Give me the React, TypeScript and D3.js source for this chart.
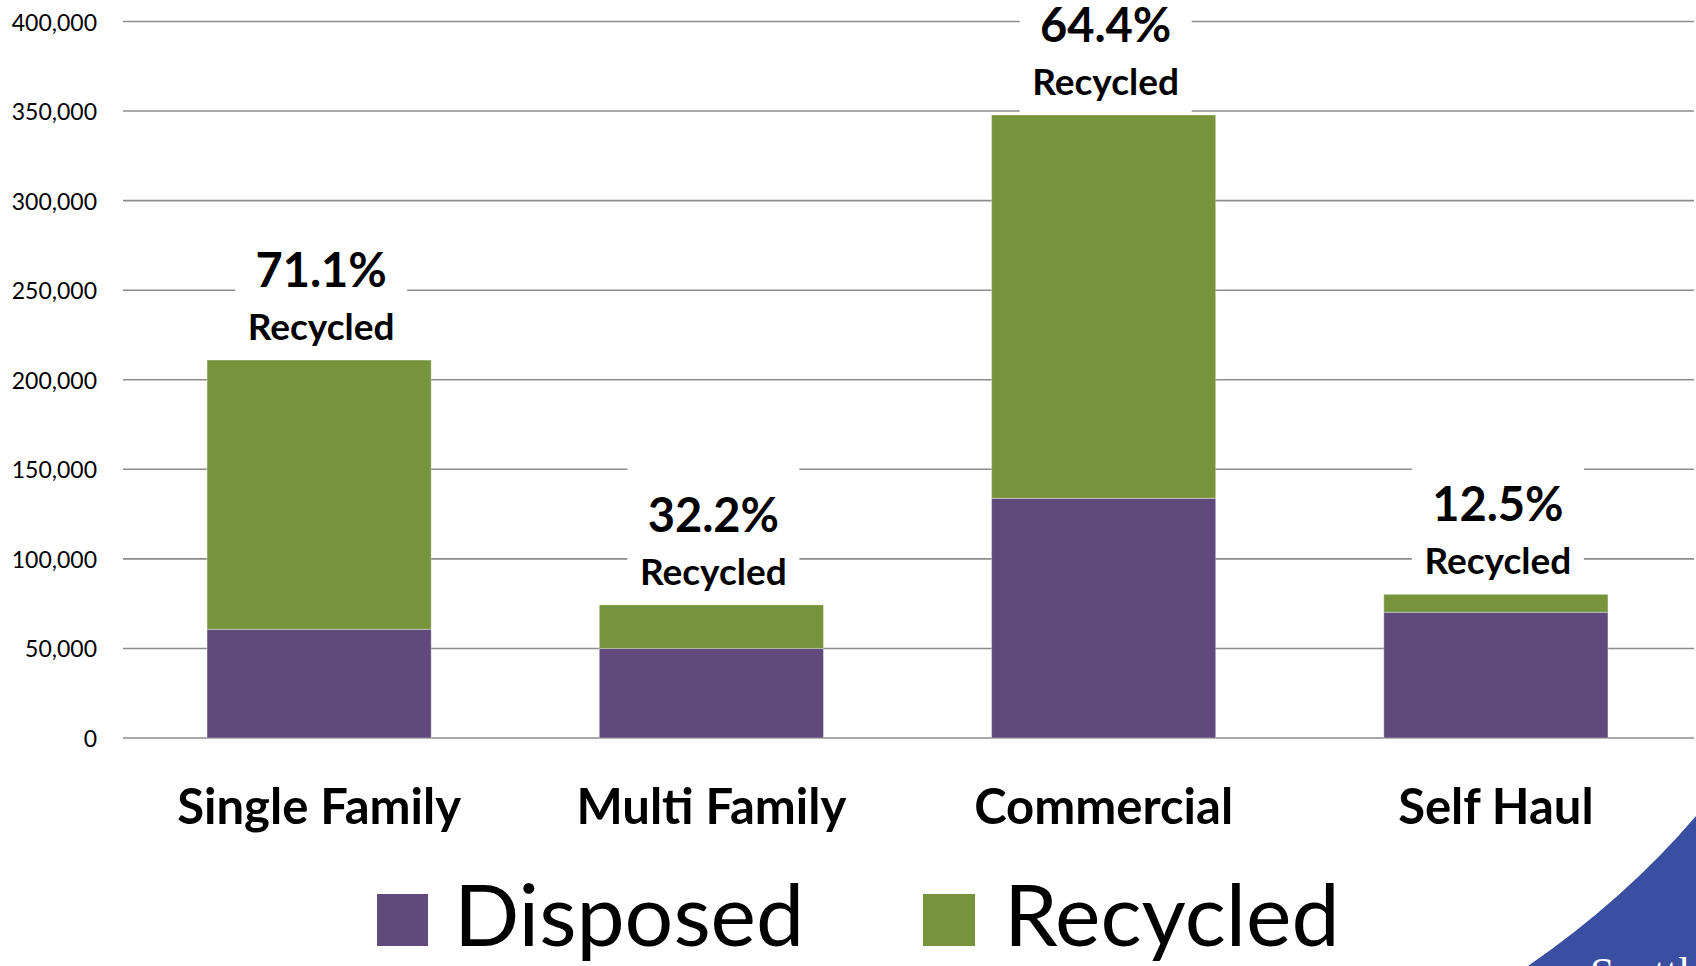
import React from "react";
import * as d3 from "d3";

const categories = ["Single Family", "Multi Family", "Commercial", "Self Haul"];
const disposed = [60700, 50000, 133800, 70200];
const recycled = [150300, 24300, 214000, 10000];
const pctLabels = ["71.1%", "32.2%", "64.4%", "12.5%"];
const yTicks = [0, 50000, 100000, 150000, 200000, 250000, 300000, 350000, 400000];
const seriesKeys = ["Disposed", "Recycled"];
const colors: Record<string, string> = { Disposed: "#604A7B", Recycled: "#77933C" };

const W = 1696;
const H = 966;
const FONT = "Lato, 'Open Sans', sans-serif";

export default function App() {
  const x = d3.scaleBand<string>().domain(categories).range([123, 1692]).paddingInner(0.4286).paddingOuter(0.2143);
  const y = d3.scaleLinear().domain([0, 400000]).range([738, 21.5]);
  const rows = categories.map((c, i) => ({ cat: c, Disposed: disposed[i], Recycled: recycled[i] }));
  const stacked = d3.stack<any>().keys(seriesKeys)(rows);
  const fmt = d3.format(",");

  const cornerPath = "M1528,966 Q1625,899 1696,816 L1696,966 Z";

  return (
    <div style={{ position: "absolute", left: 0, top: 0, width: W, height: H, overflow: "hidden", background: "#fff" }}>
      <svg width={W} height={H} style={{ display: "block" }}>
        <rect x={0} y={0} width={W} height={H} fill="#fff" />
        {/* gridlines */}
        <g>
          {yTicks.map((t) => (
            <line key={t} x1={123} x2={1694} y1={y(t)} y2={y(t)} stroke="#8c8c8c" strokeWidth={1.6} />
          ))}
        </g>
        {/* y tick labels */}
        <g fontFamily={FONT} fontSize={23} fill="#000">
          {yTicks.map((t) => (
            <text key={t} x={97} y={y(t)} textAnchor="end" dominantBaseline="central">
              {fmt(t)}
            </text>
          ))}
        </g>
        {/* bars */}
        {stacked.map((s) => (
          <g key={s.key} fill={colors[s.key]}>
            {s.map((d: any, i: number) => (
              <rect
                key={i}
                x={x(categories[i])}
                width={x.bandwidth()}
                y={y(d[1])}
                height={y(d[0]) - y(d[1])}
                stroke="rgba(255,255,255,0.35)"
                strokeWidth={1}
              />
            ))}
          </g>
        ))}
        {/* data labels */}
        {categories.map((c, i) => {
          const top = y(disposed[i] + recycled[i]);
          const cx = (x(c) as number) + x.bandwidth() / 2 + 2;
          return (
            <g key={c}>
              <rect x={cx - 86} y={top - 142} width={172} height={139} fill="#fff" />
              <text x={cx} y={top - 73} textAnchor="middle" fontFamily={FONT} fontWeight={700} fontSize={47} fill="#000">
                {pctLabels[i]}
              </text>
              <text x={cx} y={top - 20} textAnchor="middle" fontFamily={FONT} fontWeight={700} fontSize={37} fill="#000">
                Recycled
              </text>
            </g>
          );
        })}
        {/* category labels */}
        <g fontFamily={FONT} fontWeight={700} fontSize={49} fill="#000">
          {categories.map((c) => (
            <text key={c} x={(x(c) as number) + x.bandwidth() / 2} y={824} textAnchor="middle">
              {c}
            </text>
          ))}
        </g>
        {/* legend */}
        <g fontFamily={FONT} fontSize={86} fill="#000">
          <rect x={377} y={894} width={51} height={52} fill={colors.Disposed} />
          <text x={454} y={946}>Disposed</text>
          <rect x={923} y={894} width={52} height={52} fill={colors.Recycled} />
          <text x={1004} y={946}>Recycled</text>
        </g>
        {/* decorative corner */}
        <path d={cornerPath} fill="#3A4FA1" />
        <text x={1590} y={988} fontFamily="'Liberation Serif', serif" fontSize={44} fill="#fff">
          Seattle
        </text>
      </svg>
    </div>
  );
}
